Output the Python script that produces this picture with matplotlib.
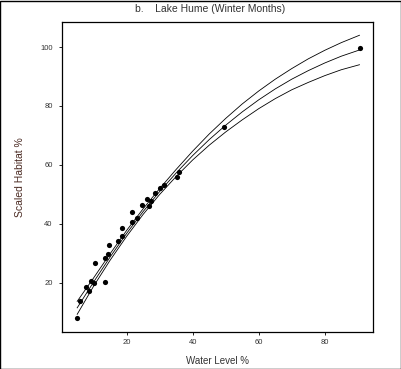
import matplotlib
matplotlib.use("Agg")
import matplotlib.pyplot as plt
from matplotlib.patches import Rectangle

plt.rcParams['font.family'] = ['Liberation Sans', 'DejaVu Sans']

# observed points
water_level = [4.9, 6.0, 7.7, 8.7, 9.1, 10.2, 10.4, 13.5, 13.4, 14.4, 14.6, 17.4, 18.7, 18.7,
               21.6, 21.6, 23.1, 24.7, 26.0, 26.8, 27.3, 28.7, 30.1, 31.3, 35.2, 35.9, 49.4, 90.6]
habitat = [7.9, 13.7, 18.5, 17.3, 20.5, 20.0, 26.6, 20.3, 28.3, 29.7, 32.8, 34.3, 36.0, 38.7,
           40.7, 44.0, 42.1, 46.5, 48.4, 46.1, 47.8, 50.4, 52.0, 53.3, 55.9, 57.7, 72.8, 99.6]

# fitted curve and confidence band
fit_x = [5, 10, 15, 20, 25, 30, 35, 40, 45, 50, 55, 60, 65, 70, 75, 80, 85, 90.5]
fit_mid = [11.5, 20.3, 28.8, 36.8, 44.2, 51.0, 57.3, 63.2, 68.6, 73.5, 78.0, 82.1, 85.8,
           89.1, 92.0, 94.6, 96.9, 99.0]
fit_upper = [13.7, 21.7, 29.9, 37.8, 45.15, 52.0, 58.5, 64.7, 70.5, 75.8, 80.7, 85.1, 89.1,
             92.7, 96.0, 98.9, 101.5, 104.0]
fit_lower = [9.3, 18.9, 27.7, 35.8, 43.25, 50.0, 56.1, 61.7, 66.7, 71.2, 75.3, 79.1, 82.5,
             85.5, 88.0, 90.3, 92.3, 94.0]

x_ticks = [20, 40, 60, 80]
y_ticks = [20, 40, 60, 80, 100]

fig = plt.figure(figsize=(4.02, 3.69), dpi=100)
ax = fig.add_axes([62 / 402, 37 / 369, 311 / 402, 310 / 369])

for curve in (fit_upper, fit_mid, fit_lower):
    ax.plot(fit_x, curve, color='black', linewidth=0.6)
ax.scatter(water_level, habitat, s=14, color='black', zorder=3, linewidths=0)

ax.set_xlim(0.4, 94.6)
ax.set_ylim(3.3, 108.5)
ax.set_xticks(x_ticks)
ax.set_yticks(y_ticks)
ax.tick_params(labelsize=5.5, length=2, width=0.6, colors='black', labelcolor='#333333')
ax.tick_params(axis='x', pad=3)
ax.tick_params(axis='y', pad=4.7)
for sp in ax.spines.values():
    sp.set_linewidth(0.9)

ax.set_xlabel('Water Level %', fontsize=7, color='#333333', labelpad=7.5)
ax.set_ylabel('Scaled Habitat %', fontsize=7.5, color='#4a2a22', labelpad=10.8)

fig.text(210 / 402, 1 - 9 / 369, 'b.    Lake Hume (Winter Months)', fontsize=7.5,
         color='#333333', ha='center', va='center')

# outer border
fig.patches.append(Rectangle((0.001, 0.001), 0.997, 0.997, transform=fig.transFigure,
                             fill=False, edgecolor='black', linewidth=1))

fig.savefig('out.png', dpi=100)
